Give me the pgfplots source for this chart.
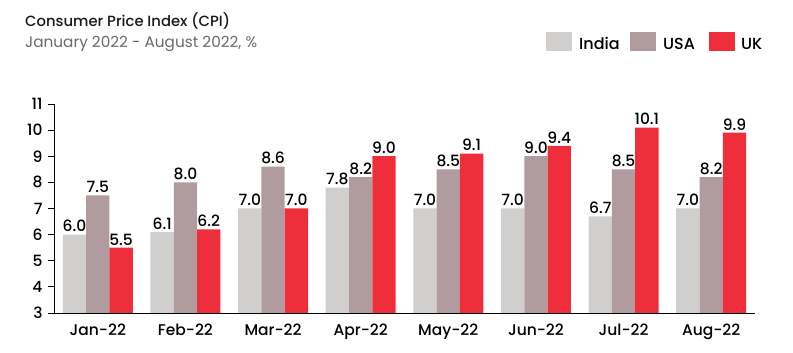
\documentclass[border=0pt]{standalone}
\usepackage{pgfplots}
\pgfplotsset{compat=1.18}
\usepackage{fontspec}
\setmainfont{Poppins}[UprightFont={* Medium}]
\newfontfamily\regfont{Poppins}
\definecolor{cIndia}{HTML}{D0CFCD}
\definecolor{cUSA}{HTML}{B09C9E}
\definecolor{cUK}{HTML}{EE2E3A}
\definecolor{subgray}{HTML}{6A6A6A}
\begin{document}
\begin{tikzpicture}[x=1pt,y=1pt]
\path[use as bounding box] (0,0) rectangle (793,353);
\node[anchor=base west,font=\fontsize{14.8}{16}\selectfont,text=black!90,inner sep=0] at (25,326) {Consumer Price Index (CPI)};
\node[anchor=base west,font=\regfont\fontsize{15.3}{17}\selectfont,text=subgray,inner sep=0] at (25,305) {January 2022 - August 2022, \%};
% legend
\fill[cIndia] (546,302) rectangle (572,321);
\node[anchor=base west,font=\fontsize{16}{18}\selectfont,inner sep=0] at (579,303) {India};
\fill[cUSA] (630,302) rectangle (656,321);
\node[anchor=base west,font=\fontsize{16}{18}\selectfont,inner sep=0] at (663,303) {USA};
\fill[cUK] (709,302) rectangle (735,321);
\node[anchor=base west,font=\fontsize{16}{18}\selectfont,inner sep=0] at (741,303) {UK};
\begin{axis}[
  at={(54pt,40pt)}, anchor=south west,
  scale only axis, width=701pt, height=209pt,
  xmin=-0.5, xmax=7.5, ymin=3, ymax=11,
  axis x line*=bottom, axis y line*=left,
  axis line style={black, line width=0.9pt},
  xtick=data,
  xticklabels={Jan-22,Feb-22,Mar-22,Apr-22,May-22,Jun-22,Jul-22,Aug-22},
  x tick style={draw=none},
  ytick={3,4,...,11},
  y tick style={black, line width=0.9pt},
  tick align=outside, major tick length=6pt,
  tick label style={font=\fontsize{15.5}{17}\selectfont},
  /pgf/number format/assume math mode=true,
  xticklabel style={yshift=-1pt},
  yticklabel style={xshift=-2pt},
  ybar, bar width=23.3pt,
  nodes near coords,
  nodes near coords style={font=\fontsize{15.5}{17}\selectfont, yshift=-1pt,
    /pgf/number format/fixed, /pgf/number format/fixed zerofill,
    /pgf/number format/precision=1, /pgf/number format/assume math mode=true},
  clip=false,
]
\addplot[fill=cIndia, draw=none, bar shift=-23.3pt] coordinates {(0,6.0) (1,6.1) (2,7.0) (3,7.8) (4,7.0) (5,7.0) (6,6.7) (7,7.0)};
\addplot[fill=cUSA, draw=none, bar shift=0pt] coordinates {(0,7.5) (1,8.0) (2,8.6) (3,8.2) (4,8.5) (5,9.0) (6,8.5) (7,8.2)};
\addplot[fill=cUK, draw=none, bar shift=23.3pt] coordinates {(0,5.5) (1,6.2) (2,7.0) (3,9.0) (4,9.1) (5,9.4) (6,10.1) (7,9.9)};
\end{axis}
\end{tikzpicture}
\end{document}
